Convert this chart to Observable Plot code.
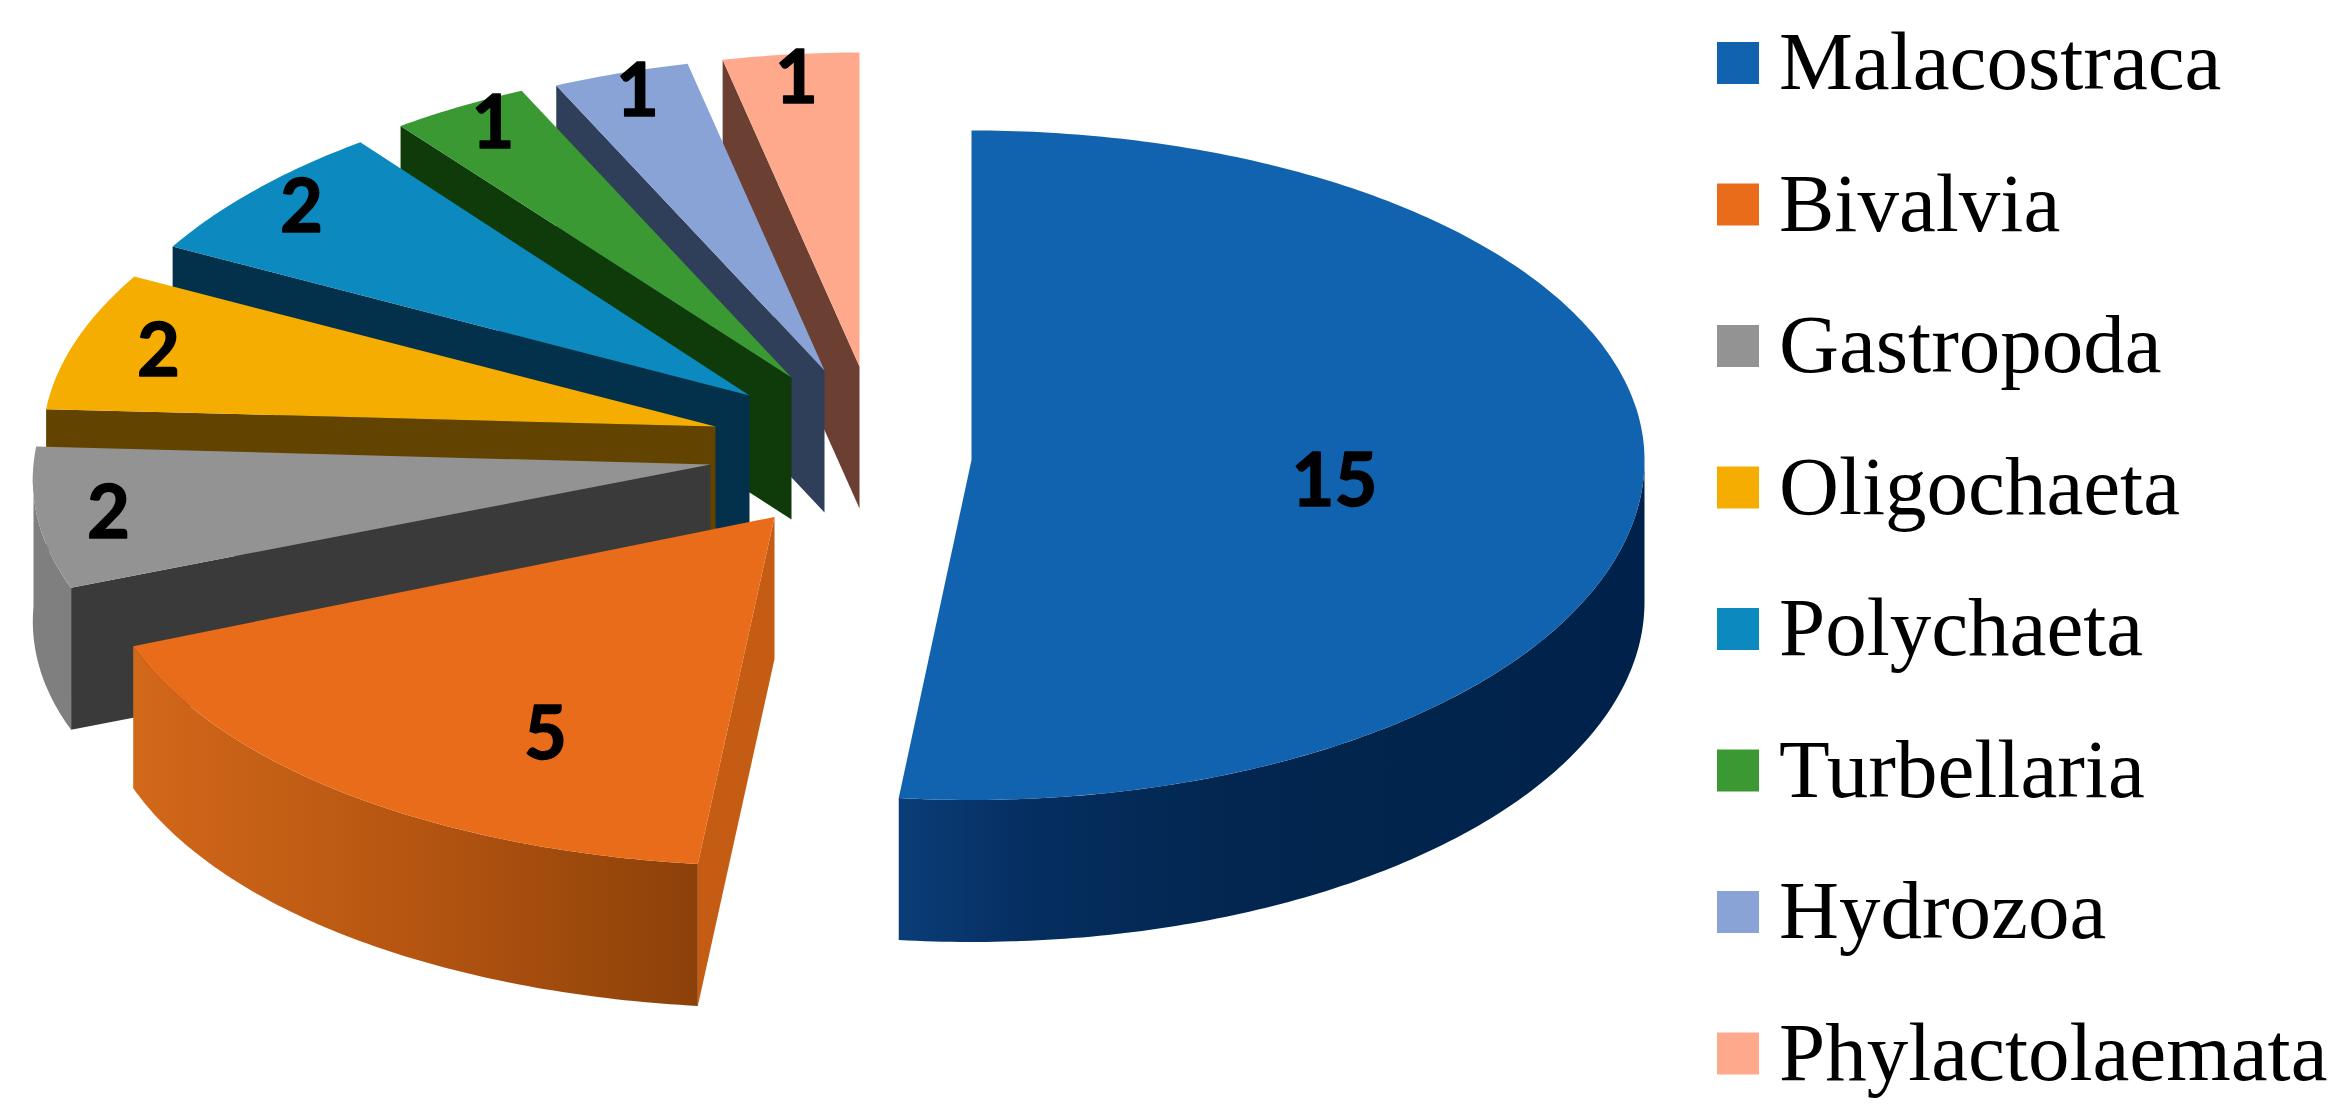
<!DOCTYPE html>
<html>
<head>
<meta charset="utf-8">
<script src="https://cdn.jsdelivr.net/npm/d3@7"></script>
<script src="https://cdn.jsdelivr.net/npm/@observablehq/plot@0.6"></script>
<style>html,body{margin:0;padding:0;background:#fff}svg{display:block}</style>
</head>
<body>
<div id="chart"></div>
<script>
// Data
const categories = ["Malacostraca","Bivalvia","Gastropoda","Oligochaeta","Polychaeta","Turbellaria","Hydrozoa","Phylactolaemata"];
const counts = [15,5,2,2,2,1,1,1];

// Styles
const topColors  = ["#1162af","#e96c1a","#939393","#f4ad00","#0c89bf","#3a9933","#8aa3d6","#ffa98c"];
const faceColors = ["#00224a","#c55c14","#3a3a3a","#634300","#03304a","#0f3b0a","#2f3f59","#6b4033"];
const wallColors = ["url(#wall0)","url(#wall1)","#7f7f7f","#634300","#03304a","#0f3b0a","#2f3f59","#6b4033"];

// Exploded-pie layout: apex of each slice, ellipse radii, perspective, extrusion depth
const apexX   = [971,774,710,715,749,791,824,859];
const apexY   = [459.5,516.5,464,426,395,377,370,366];
const radiusX = [673,679,677,672,667,670,666,666];
const radiusB = [329.5,349,333,320,318,316,314,314];
const radiusF = [340,349,333,320,318,316,314,314];
const perspective = [0,0.045,0.045,0.045,0.045,0.045,0.045,0.045];
const depth   = 142;
// Value label offset from each apex
const labelDX = [363,-229,-602,-557,-448,-298.5,-187,-63];
const labelDY = [22.5,218.5,50,-74,-187,-253,-278,-287];

const pie = d3.pie().sort(null).value(d => d)(counts);
const point = (i, a, z = 0) => {
  const c = Math.cos(a);
  return {
    x: apexX[i] + radiusX[i] * (1 - perspective[i] * c) * Math.sin(a),
    y: apexY[i] - (c > 0 ? radiusB[i] : radiusF[i]) * c + z
  };
};
const apex = (i, z = 0) => ({x: apexX[i], y: apexY[i] + z});
const arc = (i, a0, a1, z = 0) => {
  const n = Math.max(2, Math.ceil((a1 - a0) / (Math.PI / 240)));
  return d3.range(n + 1).map(k => point(i, a0 + (a1 - a0) * k / n, z));
};

const polys = [];
for (let i = counts.length - 1; i >= 0; --i) {
  const {startAngle: a0, endAngle: a1} = pie[i];
  polys.push({fill: faceColors[i], pts: [apex(i), point(i, a0), point(i, a0, depth), apex(i, depth)]});
  const w0 = Math.max(a0, Math.PI / 2), w1 = Math.min(a1, 3 * Math.PI / 2);
  if (w1 > w0) polys.push({fill: wallColors[i], pts: [...arc(i, w0, w1), ...arc(i, w0, w1, depth).reverse()]});
  polys.push({fill: topColors[i], pts: [apex(i), ...arc(i, a0, a1)]});
}

// Legend layout
const legendRows = categories.map((name, i) => ({name, color: topColors[i], mid: 63 + i * 141.5}));
const labels = counts.map((v, i) => ({v, x: apexX[i] + labelDX[i], y: apexY[i] + labelDY[i]}));

const gradient = (id, stops) => () => {
  const defs = d3.create("svg:defs");
  const g = defs.append("linearGradient").attr("id", id);
  stops.forEach(([o, c]) => g.append("stop").attr("offset", o).attr("stop-color", c));
  return defs.node();
};

const chart = Plot.plot({
  width: 2350, height: 1113, margin: 0,
  x: {domain: [0, 2350], axis: null},
  y: {domain: [1113, 0], axis: null},
  style: {background: "#fff"},
  marks: [
    gradient("wall0", [[0,"#0b3d78"],[0.18,"#052e60"],[0.45,"#02264f"],[1,"#00224a"]]),
    gradient("wall1", [[0,"#d2681a"],[0.5,"#b55511"],[1,"#8c4109"]]),
    ...polys.map(p => Plot.line(p.pts, {x: "x", y: "y", fill: p.fill, stroke: "none", curve: "linear"})),
    Plot.text(labels, {x: "x", y: "y", text: d => String(d.v), fill: "#000", stroke: "#000", strokeWidth: 1.5, fontFamily: "Lato", fontWeight: 700, fontSize: 74, lineAnchor: "middle", textAnchor: "middle"}),
    Plot.rect(legendRows, {x1: () => 1717, x2: () => 1759, y1: d => d.mid - 21, y2: d => d.mid + 21, fill: d => d.color}),
    Plot.text(legendRows, {x: () => 1778.5, y: d => d.mid + 25.5, text: "name", fill: "#000", fontFamily: "Liberation Serif", fontSize: 83, lineAnchor: "bottom", textAnchor: "start"})
  ]
});
document.getElementById("chart").append(chart);
</script>
</body>
</html>
